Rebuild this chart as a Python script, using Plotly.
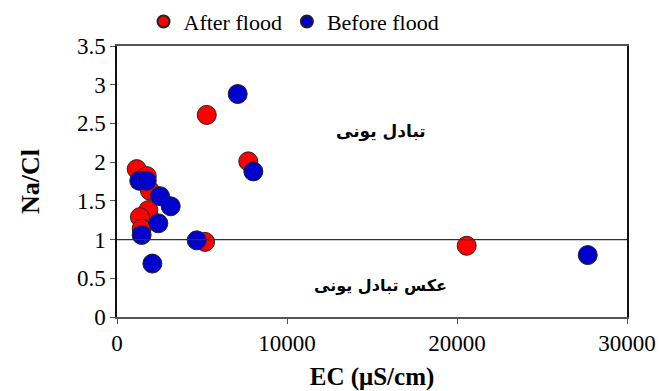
import plotly.graph_objects as go

# Na/Cl ratio against electrical conductivity, before and after the flood
after_ec = [1160, 1750, 1940, 1840, 1350, 1450, 5180, 5280, 7720, 20570]
after_nacl = [1.91, 1.82, 1.63, 1.38, 1.29, 1.14, 0.97, 2.61, 2.01, 0.92]

before_ec = [1310, 1750, 2530, 3160, 2430, 1450, 4690, 2080, 7100, 8020, 27690]
before_nacl = [1.76, 1.76, 1.56, 1.43, 1.21, 1.06, 0.99, 0.69, 2.88, 1.88, 0.80]

x_ticks = [0, 10000, 20000, 30000]
y_ticks = [0, 0.5, 1, 1.5, 2, 2.5, 3, 3.5]

label_upper = "تبادل یونی"
label_lower = "عکس تبادل یونی"

serif = "Liberation Serif, Times New Roman, serif"

fig = go.Figure()
fig.add_trace(go.Scatter(
    x=after_ec, y=after_nacl, mode="markers", name="After flood",
    marker=dict(color="#FF0000", size=19, line=dict(color="#222222", width=1)),
))
fig.add_trace(go.Scatter(
    x=before_ec, y=before_nacl, mode="markers", name="Before flood",
    marker=dict(color="#0000CC", size=19, line=dict(color="#222222", width=1)),
))

# reference line at Na/Cl = 1
fig.add_shape(type="line", xref="x", yref="y", x0=0, x1=30000, y0=1, y1=1,
              line=dict(color="#333333", width=1.2))

fig.add_annotation(x=15500, y=2.40, text=label_upper, showarrow=False,
                   font=dict(family="DejaVu Sans", size=17, color="black", weight="bold"))
fig.add_annotation(x=15500, y=0.41, text=label_lower, showarrow=False,
                   font=dict(family="DejaVu Sans", size=16, color="black", weight="bold"))

fig.update_layout(
    width=662, height=391,
    margin=dict(l=117, r=35, t=46, b=74, autoexpand=False),
    paper_bgcolor="white", plot_bgcolor="white",
    font=dict(family=serif, color="black"),
    showlegend=True,
    legend=dict(orientation="h", x=0.052, xanchor="left", y=1.012, yanchor="bottom",
                font=dict(family=serif, size=22), itemsizing="constant",
                bgcolor="rgba(0,0,0,0)", itemwidth=30),
    xaxis=dict(
        range=[0, 30000], tickvals=x_ticks, ticktext=[str(v) for v in x_ticks],
        showgrid=False, zeroline=False, showline=True, linecolor="#555555", linewidth=1.5,
        mirror=True, ticks="outside", ticklen=5, tickcolor="#555555", automargin=False,
        tickfont=dict(family=serif, size=23),
        title=dict(text="EC (μS/cm)", font=dict(family=serif, size=25, weight="bold"), standoff=12),
    ),
    yaxis=dict(
        range=[0, 3.5], tickvals=y_ticks, ticktext=[f"{v:g}" for v in y_ticks],
        showgrid=False, zeroline=False, showline=True, linecolor="#111111", linewidth=1.5,
        mirror=True, ticks="outside", ticklen=5, tickcolor="#555555", automargin=False,
        tickfont=dict(family=serif, size=23),
        title=dict(text="Na/Cl", font=dict(family=serif, size=26, weight="bold"), standoff=30),
    ),
)

fig.write_html("out.html")
